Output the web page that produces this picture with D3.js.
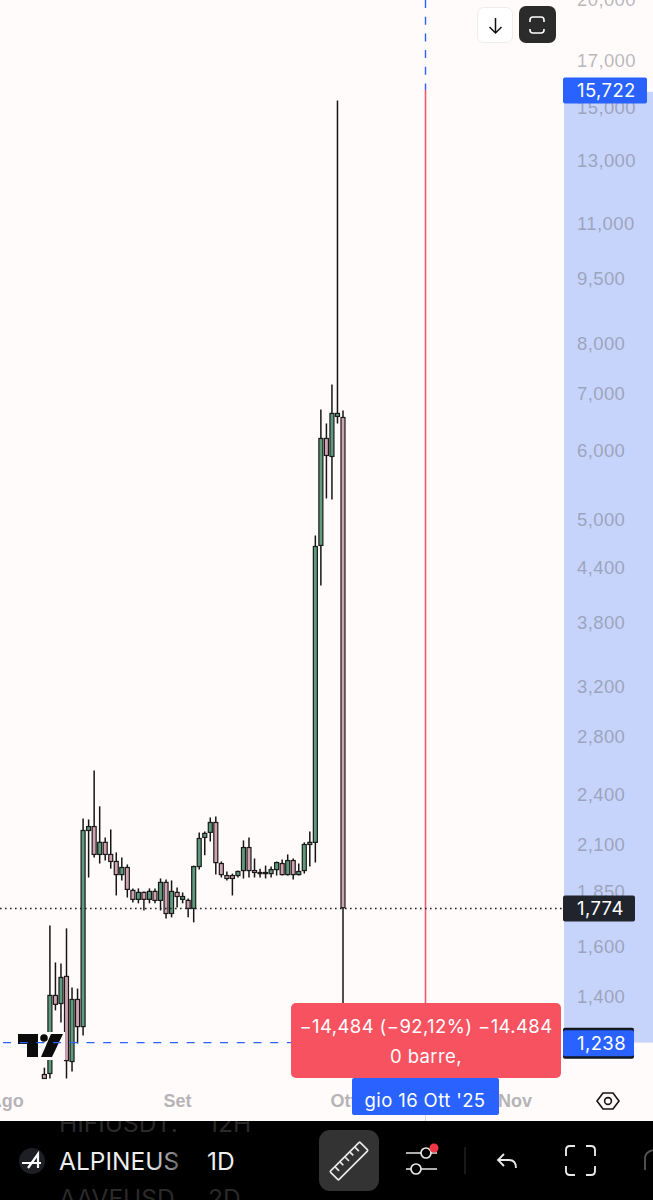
<!DOCTYPE html>
<html lang="it">
<head>
  <meta charset="UTF-8" />
  <title>ALPINEUSDT 1D</title>
  <style>
    html, body { margin: 0; padding: 0; background: #fffbfa; }
    svg { display: block; font-family: Inter, "Noto Sans", sans-serif; }
    .yAxis text { fill: rgba(115, 115, 125, 0.5); font-size: 18.5px; letter-spacing: 0.4px; text-anchor: start; }
    .xAxis text { fill: #b6b4b8; font-size: 18px; font-weight: 600; }
    .wide { letter-spacing: 0.4px; }
  </style>
</head>
<body>
  <div id="chart"></div>
  <script src="https://d3js.org/d3.v7.min.js"></script>
  <script>
    // candele giornaliere (8 ago - 1 ott 2025)
    const firstDay = Date.UTC(2025, 7, 8);
    const lastDay = Date.UTC(2025, 9, 2);
    const opens = [1137,1140,1404,1374,1477,1177,1389,1292,2180,2203,2045,2112,2045,2007,1938,1975,1858,1814,1848,1814,1853,1809,1898,1747,1848,1814,1809,1771,1980,2140,2169,2227,1996,1933,1933,1933,1959,2083,1959,1949,1949,1943,1964,1996,1938,2012,1938,1959,2100,2112,4663,6203,5912,6578,6560];
    const highs = [1158,1692,1533,1529,1679,1434,1430,2251,2245,2559,2325,2140,2186,2056,2029,1991,1868,1868,1853,1868,1868,1918,1913,1908,1873,1848,1818,1985,2169,2174,2257,2263,2007,1954,1943,1959,2123,2140,2023,1969,1985,1980,2007,2018,2045,2023,1996,2112,2174,4789,6702,6456,7164,15276,6685];
    const lows = [1125,1125,1349,1306,1125,1146,1235,1262,1923,2029,1996,2012,1969,1833,1908,1823,1799,1795,1761,1795,1795,1761,1724,1729,1775,1795,1729,1706,1964,2040,2117,1938,1923,1908,1833,1923,1918,1923,1923,1923,1918,1923,1933,1933,1933,1913,1933,1943,1980,2001,4191,5286,5272,6456,1238];
    const closes = [1125,1404,1371,1473,1180,1389,1292,2180,2203,2045,2112,2045,2007,1938,1975,1863,1814,1848,1814,1853,1809,1898,1747,1853,1828,1828,1771,1980,2134,2163,2227,2001,1938,1918,1918,1954,2083,1959,1949,1943,1943,1964,2001,1938,2012,1938,1954,2100,2112,4650,6203,5928,6631,6631,1774];

    const priceTicks = [20000,17000,15000,13000,11000,9500,8000,7000,6000,5000,4400,3800,3200,2800,2400,2100,1850,1600,1400];
    const monthTicks = [Date.UTC(2025,7,1), Date.UTC(2025,8,1), Date.UTC(2025,9,1), Date.UTC(2025,10,1)];
    const monthNames = ['Ago','Set','Ott','Nov'];

    const measureTop = 15722;
    const measureBottom = 1238;
    const lastPrice = 1774;
    const crossDay = Date.UTC(2025, 9, 16);

    const width = 653;
    const height = 1200;
    const bg = '#fffbfa';

    const x = d3.scaleUtc()
      .domain([Date.UTC(2025,7,1), Date.UTC(2025,10,1)])
      .range([5.67, 514.43]);
    const y = d3.scaleLog()
      .domain([17000, 1400])
      .range([60.5, 996.5]);

    const candleDays = d3.utcDay.range(firstDay, lastDay);
    const candles = candleDays.map((d, i) => ({
      date: d, o: opens[i], h: highs[i], l: lows[i], c: closes[i]
    }));

    const svg = d3.select('#chart').append('svg')
      .attr('width', width)
      .attr('height', height);

    svg.append('rect').attr('width', width).attr('height', height).attr('fill', bg);

    // fascia blu sulla scala prezzi
    svg.append('rect')
      .attr('x', 564).attr('width', 89)
      .attr('y', y(measureTop) + 2)
      .attr('height', y(measureBottom) - y(measureTop) - 2)
      .attr('fill', '#c6d4fb');

    // asse prezzi
    svg.append('g')
      .attr('class', 'yAxis')
      .attr('transform', 'translate(564,0)')
      .call(d3.axisRight(y).tickValues(priceTicks).tickSize(0).tickPadding(13).tickFormat(d3.format(',')))
      .call(g => g.select('.domain').remove());

    // asse date
    svg.append('g')
      .attr('class', 'xAxis')
      .attr('transform', 'translate(0,1091)')
      .call(d3.axisBottom(x).tickValues(monthTicks).tickSize(0).tickPadding(3)
        .tickFormat((d, i) => monthNames[i]))
      .call(g => g.select('.domain').remove());

    // linea verticale del mirino
    const crossX = Math.round(x(crossDay)) - 0.5;
    svg.append('line')
      .attr('x1', crossX).attr('x2', crossX)
      .attr('y1', 0).attr('y2', 90)
      .attr('stroke', '#2962ff').attr('stroke-width', 1.4)
      .attr('stroke-dasharray', '8 8.7');
    svg.append('line')
      .attr('x1', crossX).attr('x2', crossX)
      .attr('y1', y(measureTop)).attr('y2', 1003)
      .attr('stroke', '#ea5a72').attr('stroke-width', 1.6);
    svg.append('line')
      .attr('x1', crossX).attr('x2', crossX)
      .attr('y1', 1115).attr('y2', 1121)
      .attr('stroke', '#d8d6d6');

    // candele
    const chart = svg.append('g');
    const bodyW = 4;
    chart.selectAll('line.wick')
      .data(candles)
      .enter().append('line')
      .attr('class', 'wick')
      .attr('x1', d => x(d.date)).attr('x2', d => x(d.date))
      .attr('y1', d => y(d.h)).attr('y2', d => y(d.l))
      .attr('stroke', '#151515').attr('stroke-width', 1.5);
    chart.selectAll('rect.body')
      .data(candles)
      .enter().append('rect')
      .attr('class', 'body')
      .attr('x', d => x(d.date) - bodyW / 2)
      .attr('width', bodyW)
      .attr('y', d => y(Math.max(d.o, d.c)))
      .attr('height', d => Math.max(1, y(Math.min(d.o, d.c)) - y(Math.max(d.o, d.c))))
      .attr('fill', d => d.c >= d.o ? '#5e9a7c' : '#cfa3b1')
      .attr('stroke', '#1a1a1a').attr('stroke-width', 1.2);

    // logo TradingView con alone chiaro
    const logo = svg.append('g');
    logo.append('rect').attr('x', 17).attr('y', 1032).attr('width', 48).attr('height', 28).attr('fill', bg);
    logo.append('path').attr('d', 'M18,1034H38V1057H27V1044H18Z').attr('fill', '#0b0b0b');
    logo.append('circle').attr('cx', 44).attr('cy', 1038).attr('r', 3.8).attr('fill', '#0b0b0b');
    logo.append('path').attr('d', 'M51,1034H63L52,1057H41Z').attr('fill', '#0b0b0b');

    // linee orizzontali
    svg.append('line')
      .attr('x1', 0).attr('x2', 564)
      .attr('y1', Math.round(y(lastPrice)) + 0.5).attr('y2', Math.round(y(lastPrice)) + 0.5)
      .attr('stroke', '#222').attr('stroke-width', 1.5)
      .attr('stroke-dasharray', '1.6 3.4');
    svg.append('line')
      .attr('x1', 3).attr('x2', 291)
      .attr('y1', y(measureBottom)).attr('y2', y(measureBottom))
      .attr('stroke', '#2962ff').attr('stroke-width', 1.3)
      .attr('stroke-dasharray', '8 8.7');

    // etichette prezzo
    function priceLabel(price, x1, fill) {
      const cy = y(price) + 0.7;
      svg.append('rect').attr('x', 563).attr('y', cy - 13).attr('width', x1 - 563).attr('height', 26)
        .attr('rx', 2).attr('fill', fill);
      svg.append('text').attr('class', 'wide').attr('x', 577).attr('y', cy).attr('dy', '0.36em')
        .attr('fill', '#fff').attr('font-size', 18.5).text(d3.format(',')(price));
    }
    svg.append('rect').attr('x', 563).attr('y', y(measureBottom) - 14.8).attr('width', 71).attr('height', 31)
      .attr('rx', 2).attr('fill', '#131722');
    priceLabel(measureTop, 647, '#2962ff');
    priceLabel(lastPrice, 635, '#20242d');
    priceLabel(measureBottom, 634, '#2962ff');

    // etichetta data
    svg.append('rect').attr('x', 352).attr('y', 1078).attr('width', 147).attr('height', 37)
      .attr('rx', 2).attr('fill', '#2962ff');
    svg.append('text').attr('class', 'wide').attr('x', 425).attr('y', 1100).attr('dy', '0.36em')
      .attr('text-anchor', 'middle').attr('fill', '#fff').attr('font-size', 18.5)
      .text("gio 16 Ott '25");

    // riquadro misura
    svg.append('rect').attr('x', 291).attr('y', 1003).attr('width', 270).attr('height', 75)
      .attr('rx', 5).attr('fill', '#f7525f');
    svg.append('text').attr('class', 'wide').attr('x', 426).attr('y', 1026).attr('dy', '0.36em')
      .attr('text-anchor', 'middle').attr('fill', '#fff').attr('font-size', 18.5)
      .text('−14,484 (−92,12%) −14.484');
    svg.append('text').attr('class', 'wide').attr('x', 426).attr('y', 1056).attr('dy', '0.36em')
      .attr('text-anchor', 'middle').attr('fill', '#fff').attr('font-size', 18.5)
      .text('0 barre,');

    // esagono impostazioni
    svg.append('path').attr('d', 'M597,1101L603,1093H613L619,1101L613,1109H603Z')
      .attr('fill', 'none').attr('stroke', '#151515').attr('stroke-width', 1.6);
    svg.append('circle').attr('cx', 608).attr('cy', 1101).attr('r', 3.4)
      .attr('fill', 'none').attr('stroke', '#151515').attr('stroke-width', 1.6);

    // pulsanti in alto
    svg.append('rect').attr('x', 477.5).attr('y', 7.5).attr('width', 35).attr('height', 35).attr('rx', 6)
      .attr('fill', '#fff').attr('stroke', '#eeecec');
    svg.append('path').attr('d', 'M495.5,18V33M489.5,27L495.5,33L501.5,27')
      .attr('fill', 'none').attr('stroke', '#111').attr('stroke-width', 1.5);
    svg.append('rect').attr('x', 519).attr('y', 6).attr('width', 37).attr('height', 37).attr('rx', 7)
      .attr('fill', '#2b2b2b');
    svg.append('path').attr('d', 'M530,22V20Q530,17 533,17H541Q544,17 544,20V22M530,29V30Q530,33 533,33H541Q544,33 544,30V29')
      .attr('fill', 'none').attr('stroke', '#fff').attr('stroke-width', 1.6);

    // barra inferiore
    const bar = svg.append('g');
    bar.append('rect').attr('y', 1121).attr('width', width).attr('height', 79).attr('fill', '#000');

    const barClip = svg.append('clipPath').attr('id', 'barClip');
    barClip.append('rect').attr('y', 1121).attr('width', width).attr('height', 79);
    const fade = svg.append('linearGradient').attr('id', 'nameFade').attr('gradientUnits', 'userSpaceOnUse')
      .attr('x1', 150).attr('x2', 182).attr('y1', 0).attr('y2', 0);
    fade.append('stop').attr('offset', 0).attr('stop-color', '#eeeeee');
    fade.append('stop').attr('offset', 1).attr('stop-color', '#555555');

    const barText = bar.append('g').attr('clip-path', 'url(#barClip)').attr('font-size', 24.5);
    barText.append('text').attr('x', 59).attr('y', 1132).attr('fill', '#2a2a2a').text('HIFIUSDT.');
    barText.append('text').attr('x', 208).attr('y', 1132).attr('fill', '#2a2a2a').text('12H');
    barText.append('text').attr('x', 59).attr('y', 1207).attr('fill', '#2a2a2a').text('AAVEUSD');
    barText.append('text').attr('x', 208).attr('y', 1207).attr('fill', '#2a2a2a').text('2D');
    barText.append('text').attr('x', 59).attr('y', 1170).attr('fill', 'url(#nameFade)').text('ALPINEUS');
    barText.append('text').attr('x', 207).attr('y', 1170).attr('fill', '#eeeeee').text('1D');

    // icona Alpine
    bar.append('circle').attr('cx', 32).attr('cy', 1161).attr('r', 13).attr('fill', '#1d1f24');
    bar.append('path').attr('d', 'M22,1163H41M28,1168L38,1154V1168')
      .attr('fill', 'none').attr('stroke', '#fff').attr('stroke-width', 2.2);

    // righello
    bar.append('rect').attr('x', 319).attr('y', 1130).attr('width', 60).attr('height', 61).attr('rx', 11)
      .attr('fill', '#333333');
    const ruler = bar.append('g').attr('transform', 'translate(349,1161) rotate(-45)')
      .attr('fill', 'none').attr('stroke', '#e8e8e8').attr('stroke-width', 1.7);
    ruler.append('rect').attr('x', -21).attr('y', -6).attr('width', 42).attr('height', 12).attr('rx', 1);
    ruler.append('path').attr('d', 'M-14,-6V0M-7,-6V-1M0,-6V0M7,-6V-1M14,-6V0');

    // regolatori
    const sliders = bar.append('g').attr('fill', 'none').attr('stroke', '#e8e8e8').attr('stroke-width', 1.7);
    sliders.append('path').attr('d', 'M406,1153H421M431,1153H437');
    sliders.append('circle').attr('cx', 426).attr('cy', 1153).attr('r', 5);
    sliders.append('path').attr('d', 'M406,1169H411M421,1169H437');
    sliders.append('circle').attr('cx', 416).attr('cy', 1169).attr('r', 5);
    bar.append('circle').attr('cx', 434).attr('cy', 1148).attr('r', 4.5).attr('fill', '#f23645');
    bar.append('line').attr('x1', 465).attr('x2', 465).attr('y1', 1147).attr('y2', 1174).attr('stroke', '#333');

    // indietro
    bar.append('path').attr('d', 'M504,1154L498,1160L504,1166M498,1160H509Q516,1160 516,1168')
      .attr('fill', 'none').attr('stroke', '#e8e8e8').attr('stroke-width', 1.8);

    // angoli schermo intero
    bar.append('path')
      .attr('d', 'M566,1156V1150Q566,1146 570,1146H575M586,1146H591Q595,1146 595,1150V1156M595,1166V1171Q595,1175 591,1175H586M575,1175H570Q566,1175 566,1171V1166')
      .attr('fill', 'none').attr('stroke', '#e8e8e8').attr('stroke-width', 1.9);
    bar.append('path').attr('d', 'M645,1170V1158Q645,1152 653,1150')
      .attr('fill', 'none').attr('stroke', '#555').attr('stroke-width', 1.8);
  </script>
</body>
</html>
